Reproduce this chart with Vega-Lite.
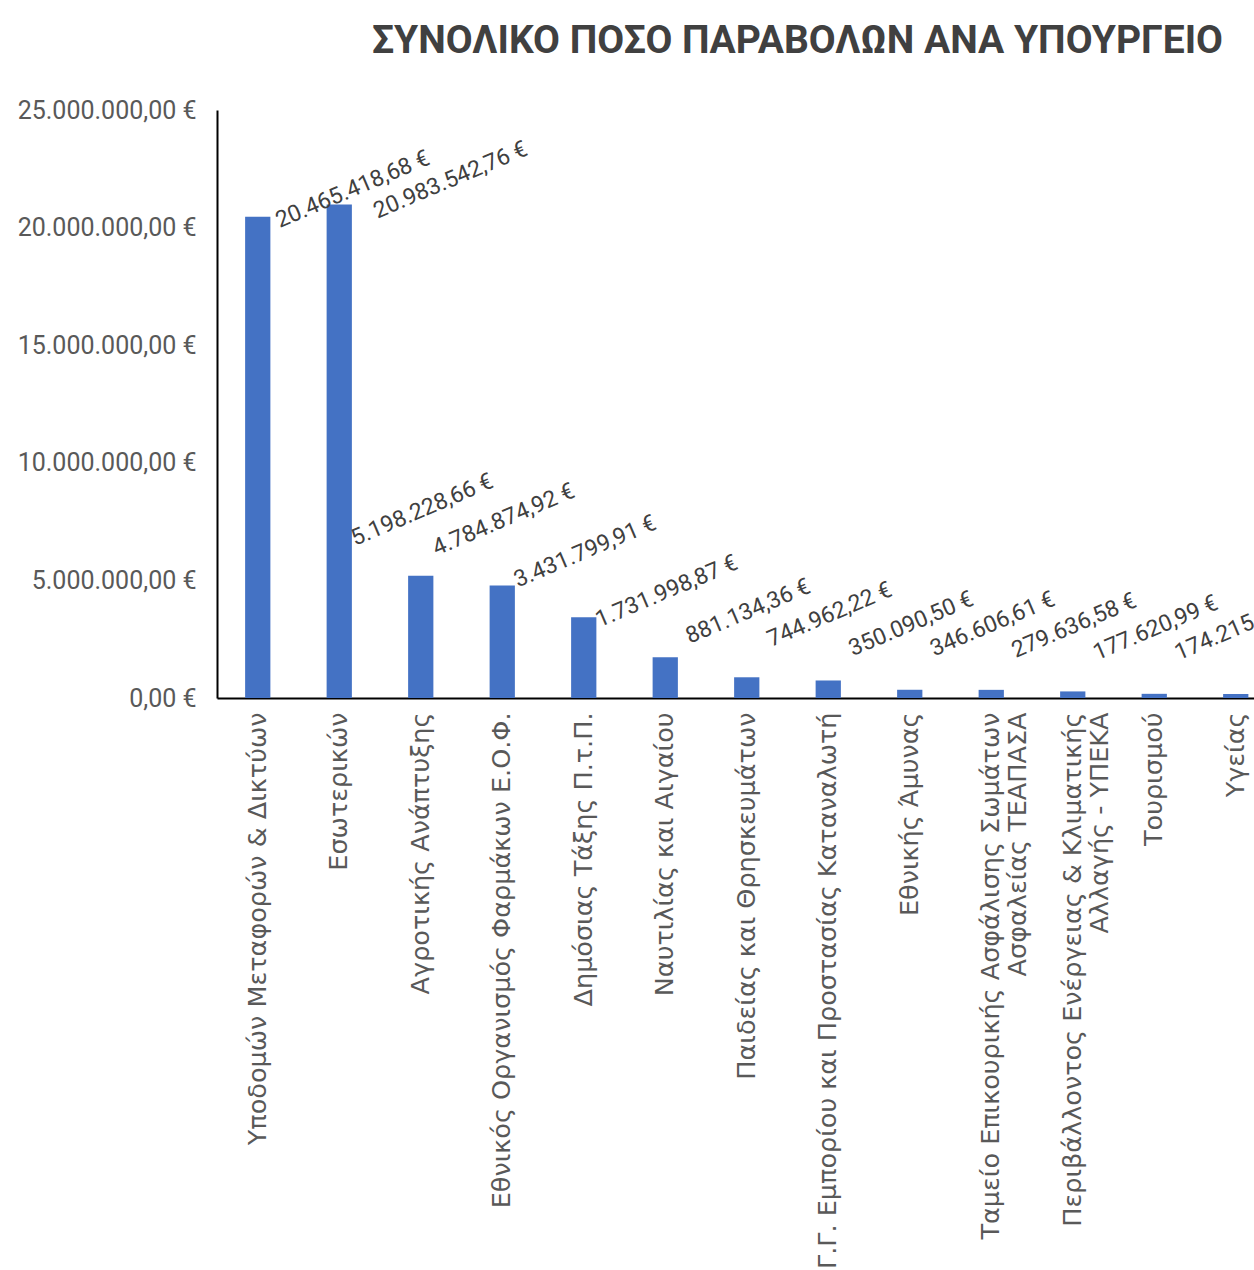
{
  "$schema": "https://vega.github.io/schema/vega-lite/v6.json",
  "autosize": {"type": "none"},
  "width": 1037,
  "height": 588,
  "padding": {"left": 217, "top": 110, "right": 0, "bottom": 572},
  "background": "white",
  "config": {
    "view": {"stroke": null},
    "locale": {"number": {"decimal": ",", "thousands": ".", "grouping": [3], "currency": ["", " €"]}}
  },
  "title": {
    "text": "ΣΥΝΟΛΙΚΟ ΠΟΣΟ ΠΑΡΑΒΟΛΩΝ ΑΝΑ ΥΠΟΥΡΓΕΙΟ",
    "anchor": "middle",
    "frame": "group",
    "dx": 62,
    "offset": 6,
    "baseline": "alphabetic",
    "font": "Roboto",
    "fontSize": 39,
    "fontWeight": "bold",
    "color": "#404040"
  },
  "data": {
    "values": [
      {"ministry": "Υποδομών Μεταφορών & Δικτύων", "amount": 20465418.68},
      {"ministry": "Εσωτερικών", "amount": 20983542.76},
      {"ministry": "Αγροτικής Ανάπτυξης", "amount": 5198228.66},
      {"ministry": "Εθνικός Οργανισμός Φαρμάκων Ε.Ο.Φ.", "amount": 4784874.92},
      {"ministry": "Δημόσιας Τάξης Π.τ.Π.", "amount": 3431799.91},
      {"ministry": "Ναυτιλίας και Αιγαίου", "amount": 1731998.87},
      {"ministry": "Παιδείας και Θρησκευμάτων", "amount": 881134.36},
      {"ministry": "Γ.Γ. Εμπορίου και Προστασίας Καταναλωτή", "amount": 744962.22},
      {"ministry": "Εθνικής Άμυνας", "amount": 350090.50},
      {"ministry": "Ταμείο Επικουρικής Ασφάλισης Σωμάτων\nΑσφαλείας ΤΕΑΠΑΣΑ", "amount": 346606.61},
      {"ministry": "Περιβάλλοντος Ενέργειας & Κλιματικής\nΑλλαγής - ΥΠΕΚΑ", "amount": 279636.58},
      {"ministry": "Τουρισμού", "amount": 177620.99},
      {"ministry": "Υγείας", "amount": 174215.00}
    ]
  },
  "encoding": {
    "x": {
      "field": "ministry",
      "type": "nominal",
      "sort": null,
      "scale": {"range": [0, 1059.5], "paddingInner": 0.69, "paddingOuter": 0.345},
      "axis": {
        "title": null,
        "labelAngle": -90,
        "labelAlign": "right",
        "labelBaseline": "middle",
        "labelPadding": 14,
        "labelFont": "DejaVu Sans",
        "labelFontSize": 25.5,
        "labelLineHeight": 27,
        "labelColor": "#595959",
        "labelLimit": 0,
        "labelExpr": "split(datum.label, '\\n')",
        "ticks": false,
        "domainColor": "#000000",
        "domainWidth": 2
      }
    },
    "y": {
      "field": "amount",
      "type": "quantitative",
      "scale": {"domain": [0, 25000000]},
      "axis": {
        "title": null,
        "values": [0, 5000000, 10000000, 15000000, 20000000, 25000000],
        "format": "$,.2f",
        "grid": false,
        "ticks": false,
        "labelPadding": 21,
        "labelLimit": 0,
        "labelFont": "Roboto",
        "labelFontSize": 25,
        "labelColor": "#595959",
        "domainColor": "#000000",
        "domainWidth": 2
      }
    }
  },
  "layer": [
    {"mark": {"type": "bar", "color": "#4472C4"}},
    {
      "transform": [{"filter": "datum.amount < 10000000"}],
      "mark": {"type": "text", "angle": -23, "align": "center", "baseline": "middle", "dx": 27, "dy": -60, "font": "Roboto", "fontSize": 23, "color": "#404040"},
      "encoding": {"text": {"field": "amount", "type": "quantitative", "format": "$,.2f"}}
    },
    {
      "transform": [{"filter": "datum.ministry == 'Υποδομών Μεταφορών & Δικτύων'"}],
      "mark": {"type": "text", "angle": -23, "align": "center", "baseline": "middle", "dx": 98, "dy": 12, "font": "Roboto", "fontSize": 23, "color": "#404040"},
      "encoding": {"text": {"field": "amount", "type": "quantitative", "format": "$,.2f"}}
    },
    {
      "transform": [{"filter": "datum.ministry == 'Εσωτερικών'"}],
      "mark": {"type": "text", "angle": -23, "align": "center", "baseline": "middle", "dx": 112, "dy": 21, "font": "Roboto", "fontSize": 23, "color": "#404040"},
      "encoding": {"text": {"field": "amount", "type": "quantitative", "format": "$,.2f"}}
    }
  ]
}
